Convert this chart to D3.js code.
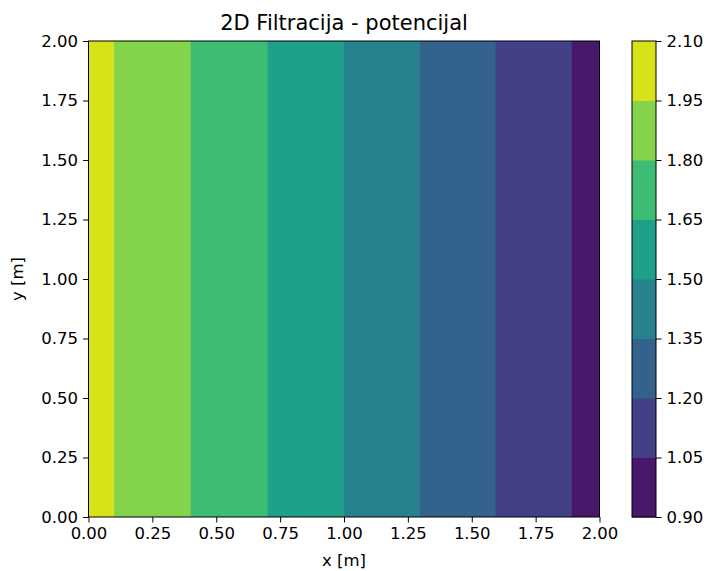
<!DOCTYPE html>
<html>
<head>
<meta charset="utf-8">
<script src="https://cdn.jsdelivr.net/npm/d3@7"></script>
<style>
  body { margin: 0; background: #fff; }
  text { font-family: "DejaVu Sans", sans-serif; fill: #000; }
</style>
</head>
<body>
<svg id="svg" width="709" height="571"></svg>
<script>
// contour levels (potential) and where each level line crosses x
var levels = [0.90, 1.05, 1.20, 1.35, 1.50, 1.65, 1.80, 1.95, 2.10]
// band edges along x, going from high potential (left) to low potential (right)
var bandEdgesX = [0.0, 0.1, 0.4, 0.7, 1.0, 1.295, 1.593, 1.89, 2.0]
var bandLow = [1.95, 1.80, 1.65, 1.50, 1.35, 1.20, 1.05, 0.90]
var xTicks = [0, 0.25, 0.5, 0.75, 1.0, 1.25, 1.5, 1.75, 2.0]
var yTicks = [0, 0.25, 0.5, 0.75, 1.0, 1.25, 1.5, 1.75, 2.0]

var svg = d3.select("#svg"),
    margin = { top: 41, left: 88.5 },
    width = 511,
    height = 476,
    fs = "16.5px",
    tick = 5.5,
    pad = 5

var g = svg.append("g")
    .attr("transform", translate(margin.left, margin.top))

var x = d3.scaleLinear().domain([0, 2]).range([0, width])
var y = d3.scaleLinear().domain([0, 2]).range([height, 0])

var nBands = levels.length - 1
var color = function (low) {
    var i = levels.indexOf(low)
    return d3.interpolateViridis((i + 0.5) / nBands)
}

var bands = bandLow.map(function (v, i) {
    return { x0: bandEdgesX[i], x1: bandEdgesX[i + 1], low: v }
})

g.selectAll(".band")
    .data(bands)
    .enter().append("rect")
    .attr("class", "band")
    .attr("x", function (d) { return x(d.x0) })
    .attr("width", function (d) { return x(d.x1) - x(d.x0) + 0.5 })
    .attr("y", y(2))
    .attr("height", y(0) - y(2))
    .attr("fill", function (d) { return color(d.low) })

var xAxis = g.append("g")
    .attr("transform", translate(0, height))
    .call(d3.axisBottom(x).tickValues(xTicks).tickFormat(d3.format(".2f")).tickSizeOuter(0).tickSize(tick).tickPadding(pad))
var yAxis = g.append("g")
    .call(d3.axisLeft(y).tickValues(yTicks).tickFormat(d3.format(".2f")).tickSizeOuter(0).tickSize(tick).tickPadding(pad))

;[xAxis, yAxis].forEach(function (a) {
    a.select(".domain").remove()
    a.selectAll("text").style("font-size", fs).style("font-family", "DejaVu Sans")
    a.selectAll("line").attr("stroke", "#000").attr("stroke-width", 1)
})

g.append("rect")
    .attr("x", 0).attr("y", 0)
    .attr("width", width).attr("height", height)
    .attr("fill", "none").attr("stroke", "#000").attr("stroke-width", 1)

// title and axis labels
svg.append("text")
    .attr("x", margin.left + width / 2).attr("y", 30)
    .attr("text-anchor", "middle")
    .style("font-size", "21px")
    .text("2D Filtracija - potencijal")

svg.append("text")
    .attr("x", margin.left + width / 2).attr("y", 566)
    .attr("text-anchor", "middle")
    .style("font-size", fs)
    .text("x [m]")

svg.append("text")
    .attr("transform", translate(23, margin.top + height / 2) + " rotate(-90)")
    .attr("text-anchor", "middle")
    .style("font-size", fs)
    .text("y [m]")

// colorbar
var cb = svg.append("g").attr("transform", translate(632, margin.top))
var cbW = 24
var cy = d3.scaleLinear().domain([levels[0], levels[levels.length - 1]]).range([height, 0])

cb.selectAll(".cband")
    .data(levels.slice(0, -1))
    .enter().append("rect")
    .attr("class", "cband")
    .attr("x", 0)
    .attr("width", cbW)
    .attr("y", function (d, i) { return cy(levels[i + 1]) })
    .attr("height", function (d, i) { return cy(levels[i]) - cy(levels[i + 1]) + 0.5 })
    .attr("fill", function (d) { return color(d) })

cb.append("rect")
    .attr("width", cbW).attr("height", height)
    .attr("fill", "none").attr("stroke", "#000").attr("stroke-width", 1)

var cAxis = cb.append("g")
    .attr("transform", translate(cbW, 0))
    .call(d3.axisRight(cy).tickValues(levels).tickFormat(d3.format(".2f")).tickSizeOuter(0).tickSize(tick).tickPadding(pad))
cAxis.select(".domain").remove()
cAxis.selectAll("text").style("font-size", fs).style("font-family", "DejaVu Sans")
cAxis.selectAll("line").attr("stroke", "#000")

function translate(x, y) {
    return "translate(" + x + "," + y + ")"
}
</script>
</body>
</html>
